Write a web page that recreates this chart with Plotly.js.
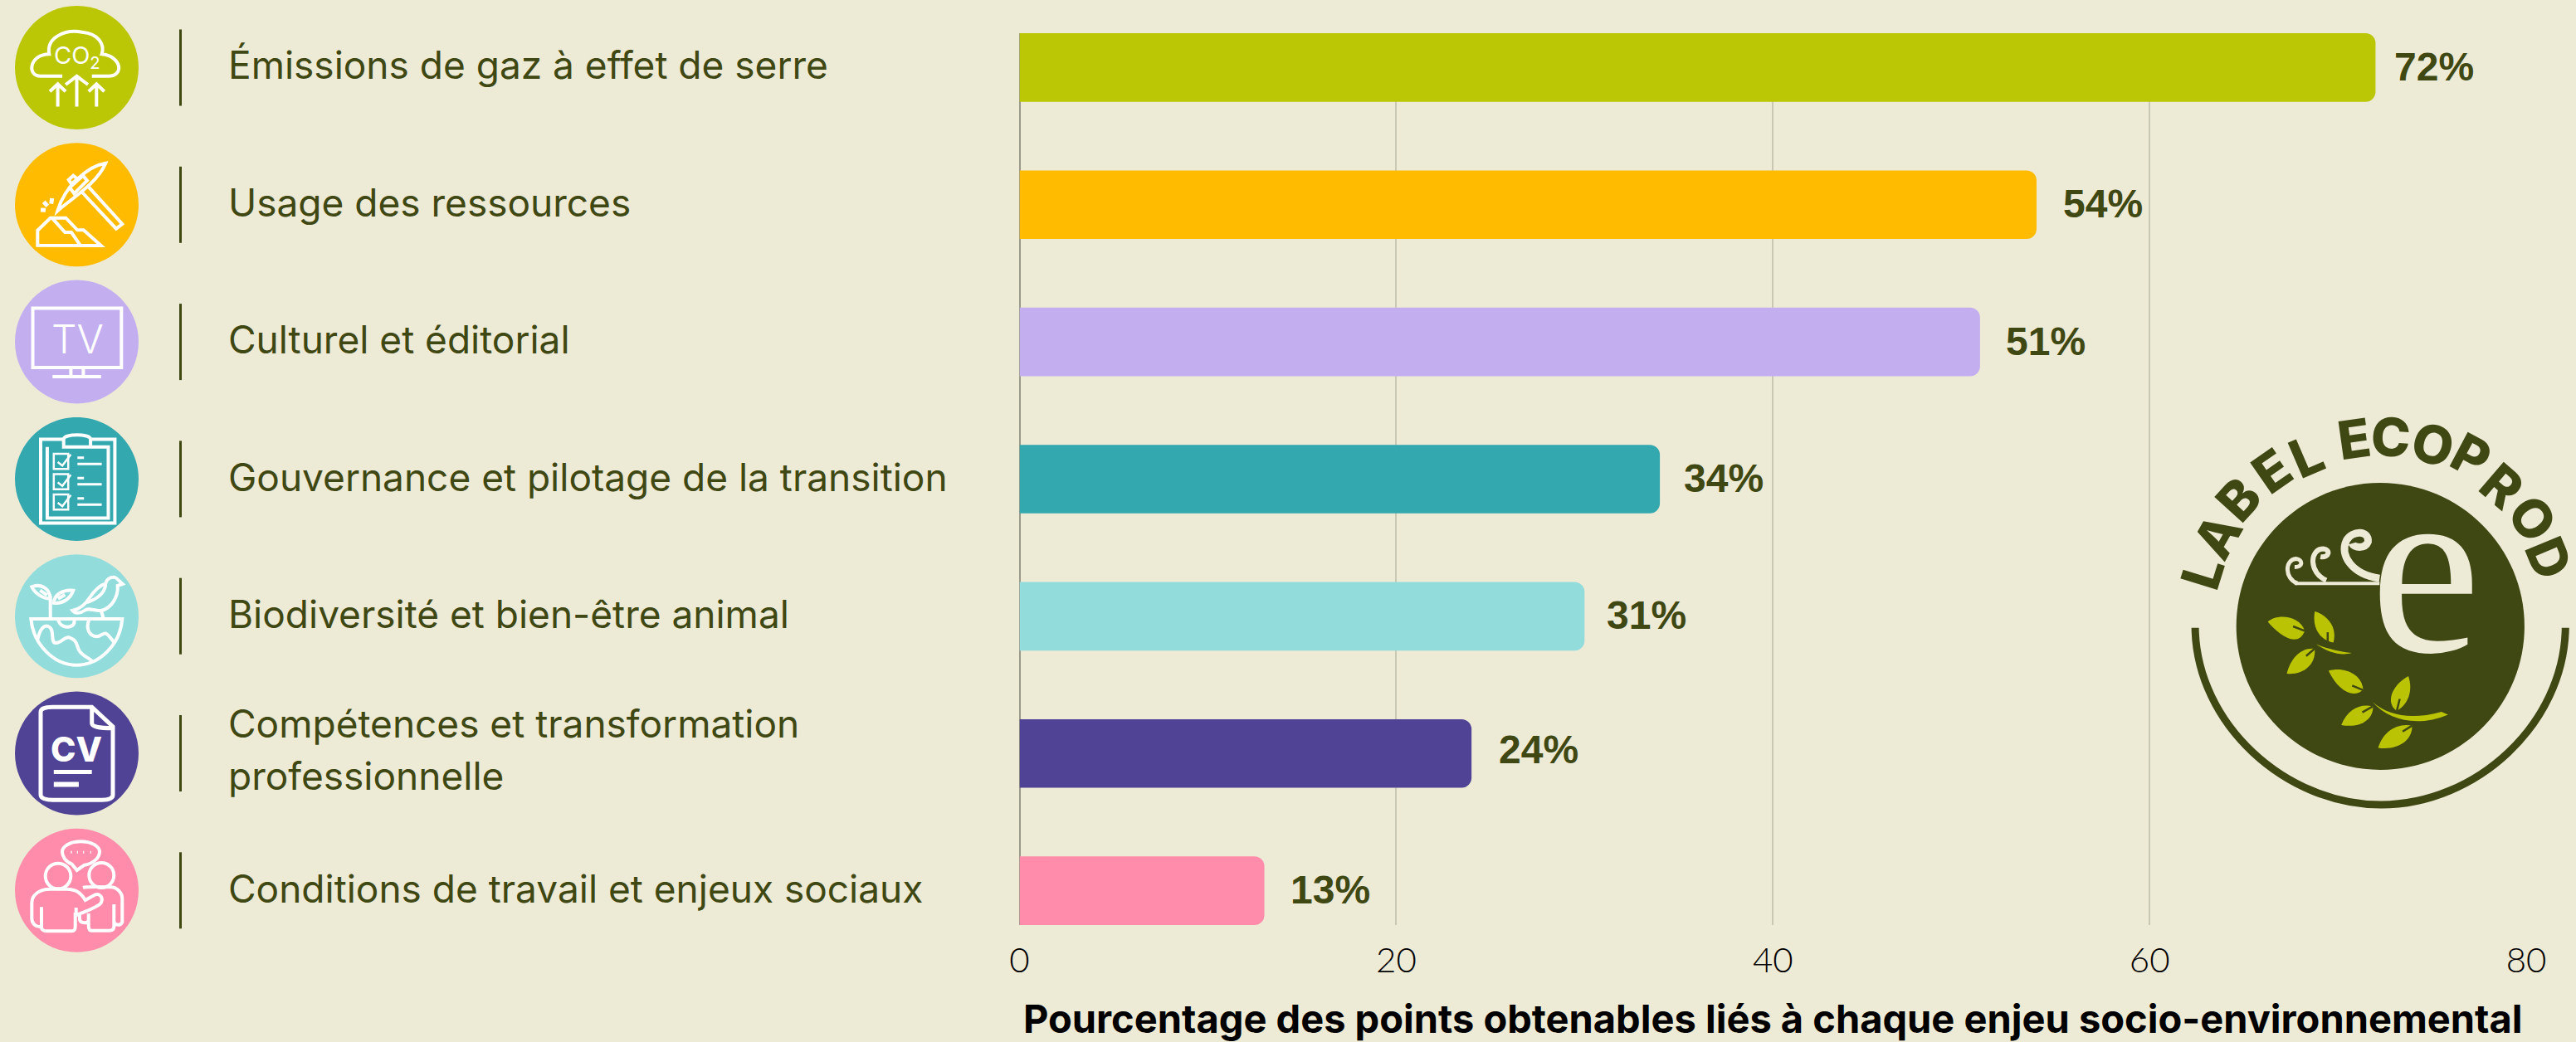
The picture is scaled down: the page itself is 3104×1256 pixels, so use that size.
<!DOCTYPE html>
<html><head><meta charset="utf-8">
<script src="https://cdn.plot.ly/plotly-3.0.1.min.js"></script>
<style>html,body{margin:0;padding:0;background:#EDEAD6;overflow:hidden}#c{width:3104px;height:1256px}</style>
</head><body><div id="c"></div>
<script>
const categories = ["Émissions de gaz à effet de serre","Usage des ressources","Culturel et éditorial","Gouvernance et pilotage de la transition","Biodiversité et bien-être animal","Compétences et transformation<br>professionnelle","Conditions de travail et enjeux sociaux"];
const values = [72,54,51,34,30,24,13];
const valueLabels = ["72%","54%","51%","34%","31%","24%","13%"];
const barColors = ["#BBC705","#FFBB00","#C3AFF0","#33A8AF","#92DDDB","#504294","#FF8CAB"];
const labelGaps = [21,30,29,27,25,31,29];
const xTicks = [0,20,40,60,80];
const xTitle = "Pourcentage des points obtenables liés à chaque enjeu socio-environnemental";
const logoLetters = "LABEL ECOPROD".replace(" ","").split("");

const W=3104,H=1256,BG="#EDEAD6",INK="#3F4712";
const PX=(a,f)=>a.replace(/(-?[\d.]+)[ ,](-?[\d.]+)/g,(m,x,y)=>{const p=f(+x,+y);return p[0].toFixed(1)+" "+p[1].toFixed(1);});
const Z1=(x,y)=>[x/1.2645,y/2.45];
const Z2=(x,y)=>[x/1.2645,640+y/2.545];
const Z3=(x,y)=>[2560+x/2.88,480+y/2.8];
const Q=(ox,oy)=>(x,y)=>[ox+x/3,oy+y/3];
const ell=(cx,cy,rx,ry)=>{const k=.5523;return `M${cx-rx} ${cy} C${cx-rx} ${cy-k*ry} ${cx-k*rx} ${cy-ry} ${cx} ${cy-ry} C${cx+k*rx} ${cy-ry} ${cx+rx} ${cy-k*ry} ${cx+rx} ${cy} C${cx+rx} ${cy+k*ry} ${cx+k*rx} ${cy+ry} ${cx} ${cy+ry} C${cx-k*rx} ${cy+ry} ${cx-rx} ${cy+k*ry} ${cx-rx} ${cy} Z`;};
const shapes=[],annotations=[];
const S=(path,f,o={})=>shapes.push({type:"path",xref:"x2",yref:"y2",layer:o.layer||"above",path:PX(path,f),fillcolor:o.fill||"rgba(0,0,0,0)",line:{color:o.color||"#fff",width:o.w===undefined?4:o.w}});
const T=(text,x,y,size,color,o={})=>annotations.push({xref:"x2",yref:"y2",x,y,text,showarrow:false,xanchor:o.xa||"center",yanchor:"middle",textangle:o.angle||0,font:{family:o.family||"Inter",size,color,weight:o.weight||400}});

const centersY=[81.5,246.8,412.1,577.4,742.7,908,1073.3];
const id=(x,y)=>[x,y];
centersY.forEach((cy,i)=>{
  S(ell(92.5,cy,74.5,74.5),id,{fill:barColors[i],w:0});
  S(`M217.5 ${cy-46} L217.5 ${cy+46}`,id,{color:INK,w:3});
});
// 1 CO2
S("M95 225 L62 225 C40 225 45 160 75 160 C70 110 100 85 125 95 C150 100 160 130 155 160 C185 165 190 225 165 225 L140 225",Z1);
["M117 315 L117 225 M100 250 L117 225 L134 250","M88 315 L88 248 M76 270 L88 248 L100 270","M147 315 L147 248 M135 270 L147 248 L159 270"].forEach(p=>S(p,Z1));
T("CO<sub>2</sub>",92.5,68,29,"#fff");
// 2 pick
const q2=Q(10,165);
S("M352 95 C290 105 205 175 178 268 C225 225 320 170 352 95 Z",q2);
S("M222 183 L270 140 L285 158 L238 205 Z M218 155 L235 140 L250 152 L228 170 Z",q2);
S("M262 195 L390 332 L412 315 L285 175",q2);
S("M117 264 L135 265 M128 235 L142 250 M158 222 L155 242",q2,{w:5});
S("M106 392 L106 338 L152 293 L208 293 L250 337 L272 337 L335 393 Z M160 295 L205 345 L228 345 L260 392",q2);
// 3 TV
S("M50 910 L185 910 L185 1085 L50 1085 Z M108 1085 L108 1112 M127 1085 L127 1112 M80 1112 L154 1112",Z1);
T("TV",93,408,48,"#fff",{weight:300});
// 4 clipboard
S("M97 1297 L62 1297 L62 1545 L175 1545 L175 1297 L138 1297 M72 1320 L72 1530 L165 1530 L165 1320 L138 1320 M97 1320 L97 1297 C97 1280 138 1280 138 1297 L138 1320 Z",Z1);
[1340,1400,1460].forEach(y=>{
  S(`M82 ${y} L104 ${y} L104 ${y+45} L82 ${y+45} Z`,Z1,{w:2.5});
  S(`M88 ${y+25} L95 ${y+35} L108 ${y+2}`,Z1,{w:2.5});
  S(`M118 ${y+12} L128 ${y+12} M118 ${y+30} L155 ${y+30}`,Z1,{w:3});
});
// 5 biodiversity
const q5=Q(10,660);
S("M82 258 L412 258 C405 350 330 425 247 425 C165 425 90 350 82 258 Z",q5);
S("M105 335 C115 290 130 280 145 285 C170 295 150 345 172 345 C195 345 200 322 220 325 C250 335 245 350 255 370 C265 390 285 395 303 410 M180 260 C185 285 210 290 225 285 C240 280 240 270 238 260 M292 260 C280 290 290 320 320 322 C335 322 345 305 355 312 C365 318 375 335 385 345",q5);
S("M152 258 L152 175 M152 185 C125 185 95 165 85 142 C115 130 150 145 152 185 Z M115 155 L140 172 M165 200 C165 170 200 150 235 155 C225 185 195 205 165 200 Z M180 185 L205 170",q5);
S("M232 228 C260 222 280 205 295 180 C315 150 335 135 352 130 C355 115 370 105 385 108 C395 112 402 122 413 132 L395 138 C398 175 375 220 335 228 C310 230 290 215 275 228 C262 238 240 240 232 228 Z M285 198 C310 190 345 175 352 135 M335 228 L345 258",q5);
// 6 CV
S("M62 555 C62 545 70 540 80 540 L140 540 L172 600 L172 810 C172 820 165 825 155 825 L80 825 C70 825 62 820 62 810 Z M140 540 L140 590 C140 600 150 605 172 605",Z2,{w:5});
S("M82 733 L140 733 L140 746 L82 746 Z M82 770 L120 770 L120 785 L82 785 Z",Z2,{fill:"#fff",w:0});
T("CV",92,903,41,"#fff",{weight:800});
// 7 people
const q7=Q(10,990);
S("M230 155 C205 145 195 125 195 110 C195 90 225 73 262 73 C300 73 330 90 330 110 C330 135 300 155 275 158 L248 177 Z",q7);
S("M226 112 L230 112 M248 112 L252 112 M270 112 L274 112 M296 112 L300 112",q7,{w:3});
S(ell(180,198,46,46),q7); S(ell(337,195,45,45),q7);
S("M120 310 L120 380 C100 385 85 370 85 350 L85 295 C85 265 115 245 150 245 L210 245 C240 245 260 255 278 285 L315 265 C330 260 345 275 335 295 C325 310 280 325 245 340 L245 312 M120 330 L120 385 C120 392 130 397 135 397 L230 397 C238 397 242 390 242 380 L242 330",q7);
S("M270 240 C285 235 340 238 370 238 C395 238 412 260 412 280 L412 365 C405 378 385 378 382 362 L382 300 M382 340 L382 380 C382 392 375 395 365 395 L300 395 C292 395 290 385 290 375 L290 333 M258 335 L258 355 C260 370 285 370 290 360",q7);

// logo
const LEAF="#BAC405";
S("M245 775 C250 1100 560 1372 890 1372 C1220 1372 1525 1100 1530 775",Z3,{color:INK,w:9});
S(ell(888,770,500,484),Z3,{fill:INK,w:0});
["M497 755 C530 725 610 735 625 785 C610 830 560 825 497 755 Z","M660 720 C700 730 740 770 725 825 C680 815 650 780 660 720 Z","M563 930 C575 880 610 840 660 845 C665 900 620 935 563 930 Z","M665 830 C700 845 750 855 788 860 C750 872 700 855 665 830 Z","M708 920 C760 905 825 930 828 985 C790 1015 740 985 708 920 Z","M985 938 C1000 980 990 1030 945 1055 C905 1030 925 970 985 938 Z","M752 1103 C775 1050 815 1030 862 1040 C865 1085 815 1115 752 1103 Z","M880 1180 C895 1130 940 1095 998 1105 C1000 1160 940 1190 880 1180 Z","M860 1025 C920 1075 1000 1085 1100 1058 L1123 1068 C1020 1110 920 1090 860 1025 Z"].forEach(p=>S(p,Z3,{fill:LEAF,w:0}));
["M625 785 L585 770","M705 825 L705 790","M660 845 L630 870","M828 985 L790 970","M945 1055 L955 1015","M862 1040 L825 1060","M998 1105 L965 1125"].forEach(p=>S(p,Z3,{color:INK,w:2.5}));
const CR="#EDEAD6";
S("M590 625 L885 625",Z3,{color:CR,w:4});
S("M600 625 C555 610 555 545 595 542 C620 545 620 570 590 570",Z3,{color:CR,w:5});
S("M700 615 C640 590 640 510 690 508 C715 510 712 540 680 535",Z3,{color:CR,w:6});
S("M885 608 C790 595 745 530 770 480 C790 445 850 445 845 485 C835 510 795 505 790 490",Z3,{color:CR,w:9});
T("e",2922,684,300,CR,{family:"Liberation Serif"});
const lp=[[270,590],[320,465],[395,340],[510,245],[630,195],[795,135],[925,130],[1070,155],[1205,195],[1310,295],[1415,405],[1472,540]];
const lc=[2868,757];
logoLetters.forEach((ch,i)=>{const p=Z3(lp[i][0],lp[i][1]);const a=Math.atan2(p[0]-lc[0],lc[1]-p[1])*180/Math.PI;T(ch,p[0],p[1],64,INK,{family:"Inter",weight:800,angle:a});});

// category labels
categories.forEach((c,i)=>{
  const lines=c.split("<br>");
  lines.forEach((t,j)=>annotations.push({xref:"x2",yref:"y",x:273,y:c,text:t,showarrow:false,xanchor:"left",yanchor:"middle",yshift:lines.length>1?(j===0?36:-27):3,font:{family:"Inter",size:46,color:INK}}));
  annotations.push({xref:"x",yref:"y",x:values[i],y:c,text:valueLabels[i],showarrow:false,xanchor:"left",yanchor:"middle",xshift:labelGaps[i],yshift:i===5?5:1,font:{family:"Liberation Sans",size:48,color:INK,weight:700}});
});

const bars={type:"bar",orientation:"h",x:values,y:categories,width:.5,marker:{color:barColors,cornerradius:12,line:{width:0}},hoverinfo:"skip",xaxis:"x",yaxis:"y",cliponaxis:false};
const overlay={type:"scatter",x:[0],y:[0],mode:"markers",marker:{opacity:0},hoverinfo:"skip",xaxis:"x2",yaxis:"y2",showlegend:false};
const layout={width:W,height:H,margin:{l:0,r:0,t:0,b:0},paper_bgcolor:BG,plot_bgcolor:"rgba(0,0,0,0)",showlegend:false,bargap:.5,
 xaxis:{domain:[1228.5/W,3044/W],range:[0,80],tickvals:xTicks,anchor:"y",showgrid:true,gridcolor:"#C8C8B4",gridwidth:2,zeroline:true,zerolinecolor:"#9A9A8A",zerolinewidth:2,showline:false,ticks:"outside",ticklen:6,tickcolor:"rgba(0,0,0,0)",tickfont:{family:"Lato",size:42,color:"#000",weight:300},title:{text:xTitle,standoff:32,font:{family:"Inter",size:47,color:"#000",weight:700}}},
 yaxis:{domain:[1-1115/H,1-40/H],type:"category",categoryorder:"array",categoryarray:categories,range:[6.25,-.25],anchor:"x",showgrid:false,zeroline:false,showticklabels:false,ticks:""},
 xaxis2:{domain:[0,1],range:[0,W],anchor:"y2",visible:false,fixedrange:true},
 yaxis2:{domain:[0,1],range:[H,0],anchor:"x2",visible:false,fixedrange:true},
 shapes,annotations};
Plotly.newPlot("c",[bars,overlay],layout,{staticPlot:true,displayModeBar:false});
</script></body></html>
